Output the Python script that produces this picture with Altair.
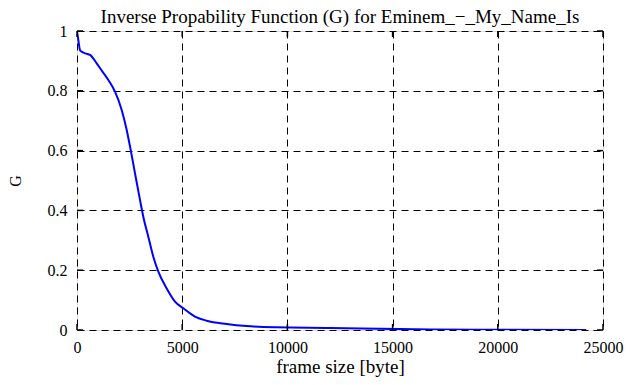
import altair as alt
import pandas as pd

frame_size = [0, 62, 143, 223, 400, 618, 935, 1200, 1490, 1806, 2124, 2362, 2552,
              2757, 2994, 3151, 3389, 3627, 3865, 4263, 4658, 5052, 5608, 6164,
              7115, 8065, 9490, 12000, 15350, 16780, 20000, 24200]
g_values = [1.0, 0.97, 0.936, 0.931, 0.925, 0.92, 0.892, 0.865, 0.836, 0.797, 0.736,
            0.669, 0.602, 0.524, 0.435, 0.379, 0.312, 0.245, 0.195, 0.139, 0.095,
            0.0725, 0.045, 0.031, 0.02, 0.013, 0.009, 0.007, 0.003, 0.002, 0.001, 0.0]
x_ticks = [0, 5000, 10000, 15000, 20000, 25000]
y_ticks = [0, 0.2, 0.4, 0.6, 0.8, 1]

df = pd.DataFrame({"x": frame_size, "G": g_values})
xt = pd.DataFrame({"x": x_ticks})
yt = pd.DataFrame({"G": y_ticks})

FONT = "Liberation Serif"
W, H = 526, 299
TK = 6

xscale = alt.Scale(domain=[0, 25000], nice=False)
yscale = alt.Scale(domain=[0, 1], nice=False)

line = alt.Chart(df).mark_line(color="#0000ff", strokeWidth=2, clip=True,
                               interpolate="monotone").encode(
    x=alt.X("x:Q", scale=xscale,
            axis=alt.Axis(values=x_ticks, format="d", title="frame size [byte]",
                          grid=True, gridDash=[7, 5], gridColor="black", gridWidth=1,
                          gridOpacity=1, ticks=False, domain=False,
                          labelFont=FONT, labelFontSize=16, labelColor="black",
                          labelPadding=9, labelFlush=False,
                          titleFont=FONT, titleFontSize=19, titleFontWeight="normal",
                          titleColor="black", titleX=W / 2, titleY=42,
                          titleBaseline="alphabetic")),
    y=alt.Y("G:Q", scale=yscale,
            axis=alt.Axis(values=y_ticks, title="G",
                          grid=True, gridDash=[7, 5], gridColor="black", gridWidth=1,
                          gridOpacity=1, ticks=False, domain=False,
                          labelFont=FONT, labelFontSize=16, labelColor="black",
                          labelPadding=10, labelFlush=False,
                          labelExpr="datum.value == 0 ? '0' : datum.value == 1 ? '1' : format(datum.value, '.1f')",
                          titleFont=FONT, titleFontSize=16, titleFontWeight="normal",
                          titleColor="black", titleX=-62, titleY=H / 2,
                          titleAngle=270, titleBaseline="middle", titleAlign="center")),
)

tick_style = dict(color="black", strokeWidth=1.5)
xb = alt.Chart(xt).mark_rule(**tick_style).encode(
    x=alt.X("x:Q", scale=xscale), y=alt.value(H), y2=alt.value(H - TK))
xtop = alt.Chart(xt).mark_rule(**tick_style).encode(
    x=alt.X("x:Q", scale=xscale), y=alt.value(0), y2=alt.value(TK))
yl = alt.Chart(yt).mark_rule(**tick_style).encode(
    y=alt.Y("G:Q", scale=yscale), x=alt.value(0), x2=alt.value(TK))
yr = alt.Chart(yt).mark_rule(**tick_style).encode(
    y=alt.Y("G:Q", scale=yscale), x=alt.value(W), x2=alt.value(W - TK))

chart = alt.layer(line, xb, xtop, yl, yr).properties(
    width=W, height=H,
    title=alt.TitleParams("Inverse Propability Function (G) for Eminem_\u2212_My_Name_Is",
                          font=FONT, fontSize=19, fontWeight="normal", color="black",
                          anchor="middle", offset=5, frame="group", dy=9),
    autosize=alt.AutoSizeParams(type="none"),
    padding={"left": 69, "top": 23, "right": 23, "bottom": 47},
).configure_view(stroke="black", strokeWidth=2).configure(background="white")

chart.save("out.html", embed_options={"renderer": "svg", "actions": False})
